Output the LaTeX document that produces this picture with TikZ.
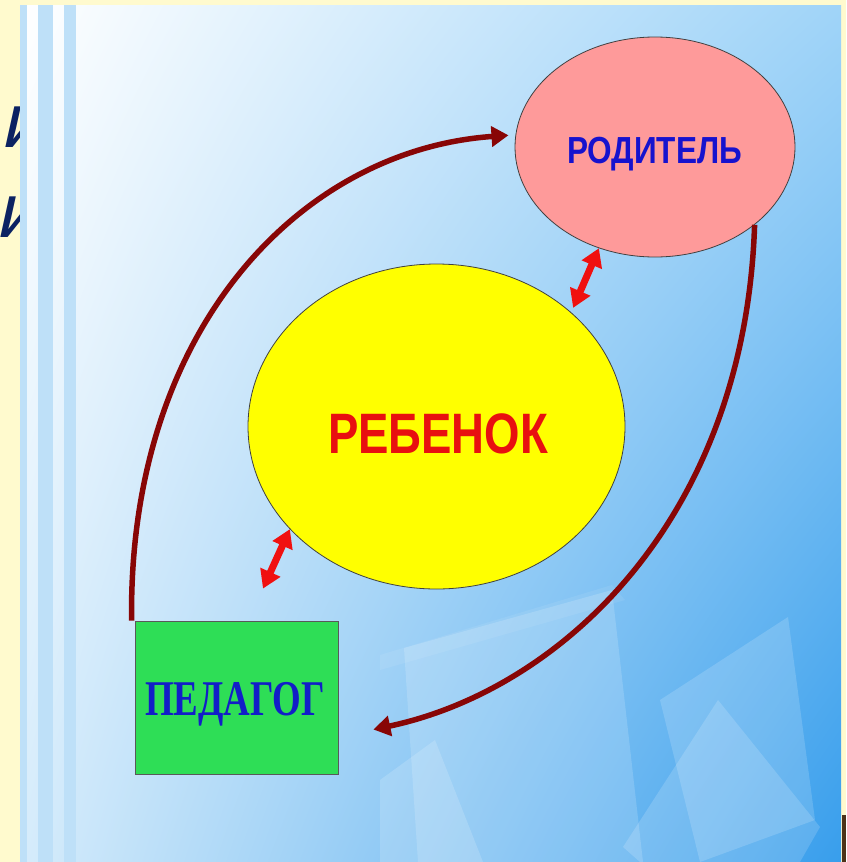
\documentclass[tikz,border=0pt]{standalone}
\usepackage{fontspec}
\usepackage{graphicx}
\usetikzlibrary{shapes.geometric,arrows.meta,calc,shadings}
\newfontfamily\sansfam{Liberation Sans}
\newfontfamily\seriffam{Liberation Serif}
\newfontfamily\slantfam{Liberation Sans}[FakeSlant=0.22]
\definecolor{creamc}{RGB}{255,250,206}
\definecolor{stripec}{RGB}{190,224,248}
\definecolor{pinkc}{RGB}{254,154,154}
\definecolor{yellowc}{RGB}{255,255,0}
\definecolor{greenc}{RGB}{46,222,86}
\definecolor{darkred}{RGB}{136,6,6}
\definecolor{brightred}{RGB}{240,16,16}
\definecolor{navyc}{RGB}{12,34,98}
\definecolor{textblue}{RGB}{22,18,206}
\definecolor{textblue2}{RGB}{18,30,200}
\definecolor{textred}{RGB}{232,16,16}
\definecolor{bgul}{RGB}{255,255,255}
\definecolor{bgur}{RGB}{160,212,248}
\definecolor{bgll}{RGB}{214,236,251}
\definecolor{bglr}{RGB}{56,158,236}
\tikzset{
  bubble/.style={ellipse, draw=black!75, line width=0.8pt, inner sep=0pt},
  boxnode/.style={rectangle, draw=black!65, line width=0.8pt, inner sep=0pt},
  flowarrow/.style={draw=darkred, line width=5.5pt, -{Triangle[length=17pt,width=20pt]}},
  linkarrow/.style={draw=brightred, line width=7pt, {Triangle[length=18pt,width=21pt]}-{Triangle[length=18pt,width=21pt]}},
  glass/.style={fill=white, fill opacity=0.16, draw=none},
  stripe/.style={fill=stripec, draw=none}
}
\begin{document}
\begin{tikzpicture}[x=1pt,y=-1pt]
\useasboundingbox (0,0) rectangle (846,862);
% cream background
\fill[creamc] (0,0) rectangle (846,862);
% partially hidden letters
\node[anchor=base west, inner sep=0pt, text=navyc] (letterone) at (0,147) {\slantfam\fontsize{77}{80}\selectfont и};
\node[anchor=base west, inner sep=0pt, text=navyc] (lettertwo) at (-5,237) {\slantfam\fontsize{77}{80}\selectfont и};
% slide panel
\shade[upper left=bgul, upper right=bgur, lower left=bgll, lower right=bglr] (20,5) rectangle (841,862);
% translucent glass shapes
\fill[glass] (404,648) -- (612,590) -- (643,862) -- (418,862) -- cycle;
\fill[glass] (380,780) -- (435,740) -- (483,862) -- (380,862) -- cycle;
\fill[glass] (660,700) -- (788,617) -- (815,820) -- (700,862) -- cycle;
\fill[glass] (718,700) -- (820,827) -- (800,862) -- (640,862) -- (623,847) -- cycle;
\fill[glass, fill opacity=0.08] (380,655) -- (612,585) -- (625,600) -- (380,670) -- cycle;
% stripes on the left
\fill[stripe] (20,5) rectangle (27,862);
\fill[stripe] (38,5) rectangle (53,862);
\fill[stripe] (64,5) rectangle (76,862);
% dark corner bottom right
\fill[black!60!brown] (842,815) rectangle (846,862);
% shapes
\node[bubble, fill=pinkc, minimum width=280pt, minimum height=220pt] (parent) at (655,147) {};
\node[bubble, fill=yellowc, minimum width=377pt, minimum height=325pt] (child) at (436.5,426.5) {};
\node[boxnode, fill=greenc, minimum width=203pt, minimum height=153pt] (teacher) at (236.5,697.5) {};
% labels
\node[anchor=base, inner sep=0pt, text=textblue] (parentlabel) at (654.5,163)
  {\resizebox{175pt}{\height}{\sansfam\bfseries\fontsize{37.7}{40}\selectfont РОДИТЕЛЬ}};
\node[anchor=base, inner sep=0pt, text=textred] (childlabel) at (438,453)
  {\resizebox{220pt}{\height}{\sansfam\bfseries\fontsize{57}{60}\selectfont РЕБЕНОК}};
\node[anchor=base, inner sep=0pt, text=textblue2] (teacherlabel) at (235,715)
  {\resizebox{180pt}{\height}{\seriffam\bfseries\fontsize{50}{52}\selectfont ПЕДАГОГ}};
% free ends
\coordinate (returnend) at ($(teacher.east)+(35,32)$);
\coordinate (childtip) at ($(child.42)+(6,-1)$);
\coordinate (teachertip) at ($(teacher.north)+(26.5,-32)$);
% connectors
\draw[flowarrow, shorten >=7pt] ([xshift=-3pt]teacher.north west) .. controls (128,330) and (300,150) .. (parent.175);
\draw[flowarrow] (parent.-38) .. controls (745,520) and (560,690) .. (returnend);
\draw[linkarrow] (parent.-119) -- (childtip);
\draw[linkarrow] (child.-145.5) -- (teachertip);
\end{tikzpicture}
\end{document}
